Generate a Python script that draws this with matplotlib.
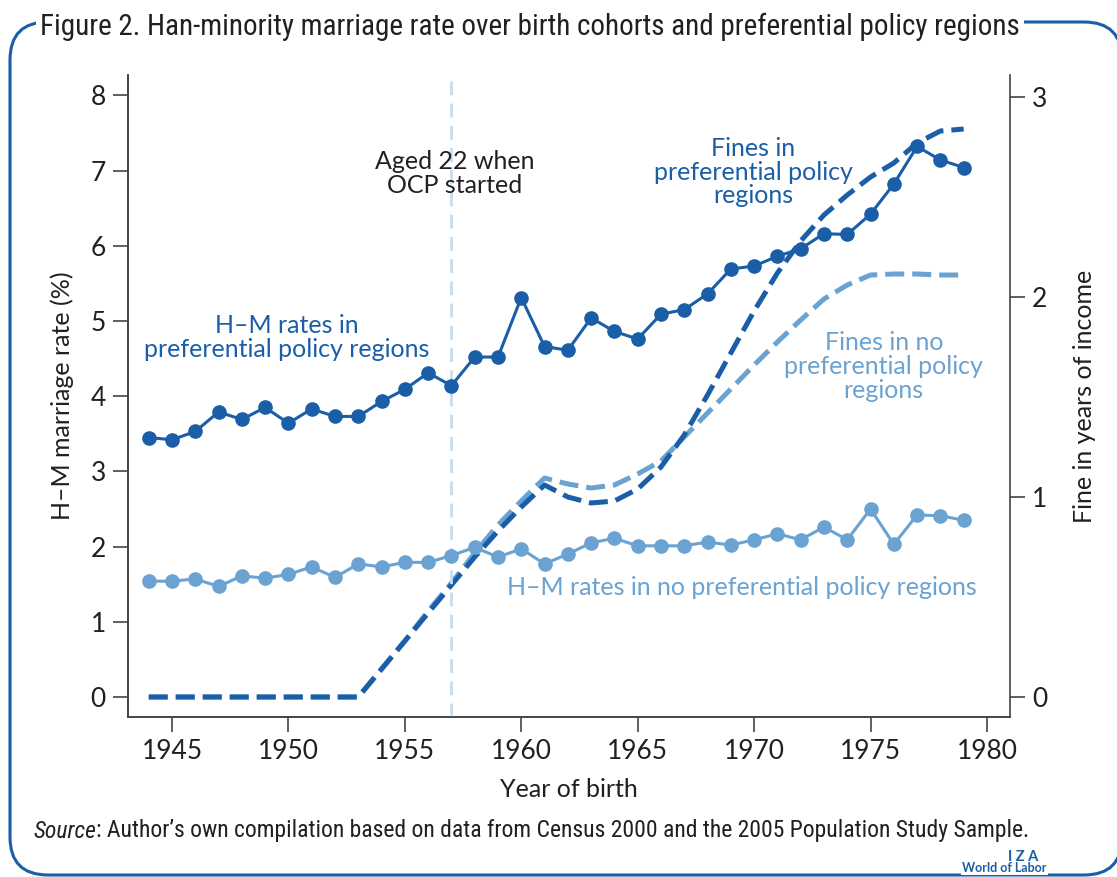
"""
Han-minority marriage rate over birth cohorts and preferential policy regions
"""

import matplotlib
matplotlib.use("Agg")
import matplotlib.pyplot as plt
from matplotlib.patches import PathPatch
from matplotlib.path import Path

DARK = "#1a5ea8"
LIGHT = "#6aa2d2"
VLINE = "#c6ddef"
TEXT = "#231f20"

years = list(range(1944, 1980))

# H-M marriage rate (%), preferential policy regions
hm_pref = [3.45, 3.42, 3.53, 3.79, 3.69, 3.85, 3.64, 3.83, 3.73, 3.73,
           3.93, 4.09, 4.31, 4.14, 4.52, 4.52, 5.31, 4.66, 4.61, 5.04,
           4.86, 4.76, 5.09, 5.15, 5.36, 5.69, 5.73, 5.86, 5.96, 6.16,
           6.15, 6.42, 6.82, 7.32, 7.14, 7.04]

# H-M marriage rate (%), no preferential policy regions
hm_nopref = [1.54, 1.54, 1.57, 1.47, 1.61, 1.58, 1.63, 1.73, 1.59, 1.77,
             1.73, 1.79, 1.79, 1.88, 1.99, 1.86, 1.97, 1.77, 1.90, 2.05,
             2.11, 2.01, 2.01, 2.01, 2.06, 2.02, 2.09, 2.17, 2.09, 2.26,
             2.09, 2.50, 2.03, 2.42, 2.41, 2.35]

# fines in years of income
fine_pref = [0, 0, 0, 0, 0, 0, 0, 0, 0, 0,
             0.14, 0.28, 0.42, 0.56, 0.70, 0.83, 0.95, 1.06, 1.00, 0.97,
             0.98, 1.04, 1.15, 1.31, 1.51, 1.72, 1.93, 2.12, 2.28, 2.41,
             2.51, 2.60, 2.67, 2.77, 2.83, 2.84]

fine_nopref = [0, 0, 0, 0, 0, 0, 0, 0, 0, 0,
               0.14, 0.28, 0.43, 0.57, 0.72, 0.86, 0.98, 1.095, 1.065, 1.045,
               1.06, 1.115, 1.18, 1.30, 1.42, 1.54, 1.66, 1.775, 1.885, 1.99,
               2.06, 2.11, 2.115, 2.115, 2.11, 2.11]

ocp_year = 1957
x_ticks = [1945, 1950, 1955, 1960, 1965, 1970, 1975, 1980]
left_ticks = [0, 1, 2, 3, 4, 5, 6, 7, 8]
right_ticks = [0, 1, 2, 3]

BODY_FONT = ["Lato", "DejaVu Sans"]
NARROW_FONT = ["Roboto Condensed", "Liberation Sans Narrow", "Lato", "DejaVu Sans"]


def draw_frame(fig):
	"""
	Rounded blue frame around the figure, title breaks the top line
	"""
	# open outline in inches, right side runs off the page
	verts = [(11.22, 0.40), (11.22, 0.02), (10.84, 0.02),
			 (0.48, 0.02), (0.10, 0.02), (0.10, 0.40),
			 (0.10, 8.17), (0.10, 8.55), (0.48, 8.55),
			 (10.84, 8.55), (11.22, 8.55), (11.22, 8.17)]
	codes = [Path.MOVETO, Path.CURVE3, Path.CURVE3,
			 Path.LINETO, Path.CURVE3, Path.CURVE3,
			 Path.LINETO, Path.CURVE3, Path.CURVE3,
			 Path.LINETO, Path.CURVE3, Path.CURVE3]
	frame = PathPatch(Path(verts, codes), transform=fig.dpi_scale_trans, fill=False,
					  edgecolor=DARK, linewidth=2.2, zorder=0)
	fig.add_artist(frame)
	fig.text(40 / 1117, 1 - 27 / 877,
			 "Figure 2. Han-minority marriage rate over birth cohorts and preferential policy regions",
			 fontsize=21, family=NARROW_FONT, color=TEXT, ha="left", va="center",
			 bbox=dict(facecolor="white", edgecolor="none", pad=3))
	src = fig.text(33 / 1117, 1 - 831 / 877, "Source", fontsize=17,
				   family=NARROW_FONT, style="italic", color=TEXT, va="center")
	fig.canvas.draw()
	bb = src.get_window_extent()
	fig.text(bb.x1 / fig.bbox.width, 1 - 831 / 877,
			 ": Author\u2019s own compilation based on data from Census 2000 and the 2005 Population Study Sample.",
			 fontsize=17, family=NARROW_FONT, color=TEXT, va="center")
	fig.text(1008 / 1117, 1 - 857 / 877, "I Z A", fontsize=10.5, weight="bold",
			 color=DARK, ha="left", va="center", family=BODY_FONT)
	fig.text(962 / 1117, 1 - 868 / 877, "World of Labor", fontsize=9, weight="bold",
			 color=DARK, ha="left", va="center", family=BODY_FONT,
			 bbox=dict(facecolor="white", edgecolor="none", pad=1))


def main():
	"""
	Plots both marriage-rate series and the fine curves
	"""
	fig = plt.figure(figsize=(11.17, 8.77), dpi=100)
	ax = fig.add_axes([128 / 1117, 1 - 717 / 877, (1010 - 128) / 1117, (717 - 75) / 877])
	ax2 = ax.twinx()

	ax.axvline(ocp_year, color=VLINE, linewidth=2, linestyle=(0, (5, 3)), zorder=1)

	ax2.plot(years, fine_nopref, color=LIGHT, linewidth=3.6, linestyle=(0, (3.8, 1.6)),
			 zorder=2)
	ax2.plot(years, fine_pref, color=DARK, linewidth=3.6, linestyle=(0, (3.8, 1.6)),
			 zorder=3)

	ax.plot(years, hm_nopref, color=LIGHT, linewidth=2.2, marker="o", markersize=9.5,
			zorder=4)
	ax.plot(years, hm_pref, color=DARK, linewidth=2.2, marker="o", markersize=9.5,
			zorder=5)
	# keep marker lines above the twin axes
	ax.set_zorder(ax2.get_zorder() + 1)
	ax.patch.set_visible(False)

	ax.set_xlim(1943.11, 1980.99)
	ax.set_ylim(-0.266, 8.27)
	ax2.set_ylim(-0.1, 3.11)
	ax.set_xticks(x_ticks)
	ax.set_yticks(left_ticks)
	ax2.set_yticks(right_ticks)

	for a in (ax, ax2):
		a.spines["top"].set_visible(False)
		for s in a.spines.values():
			s.set_linewidth(1.2)
			s.set_color("#444444")
		a.tick_params(length=11, width=1.2, color="#444444", labelsize=19,
					  labelcolor=TEXT, pad=5)
		for lab in a.get_xticklabels() + a.get_yticklabels():
			lab.set_family(BODY_FONT)
	ax.spines["right"].set_visible(False)

	ax.set_xlabel("Year of birth", fontsize=18, color=TEXT, family=BODY_FONT, labelpad=10)
	ax.set_ylabel("H\u2013M marriage rate (%)", fontsize=18, color=TEXT, family=BODY_FONT,
				  labelpad=12)
	ax2.set_ylabel("Fine in years of income", fontsize=18, color=TEXT, family=BODY_FONT,
				   labelpad=18)

	txt = dict(fontsize=18, ha="center", va="center", family=BODY_FONT, linespacing=1.05)
	ax.text(1949.94, 4.78, "H\u2013M rates in\npreferential policy regions", color=DARK, **txt)
	ax.text(1957.15, 6.96, "Aged 22 when\nOCP started", color=TEXT, **txt)
	ax.text(1969.95, 6.98, "Fines in\npreferential policy\nregions", color=DARK, **txt)
	ax.text(1975.57, 4.40, "Fines in no\npreferential policy\nregions", color=LIGHT, **txt)
	ax.text(1969.47, 1.46, "H\u2013M rates in no preferential policy regions", color=LIGHT, **txt)

	draw_frame(fig)
	fig.savefig("out.png", dpi=100)


if __name__ == "__main__":
	main()
